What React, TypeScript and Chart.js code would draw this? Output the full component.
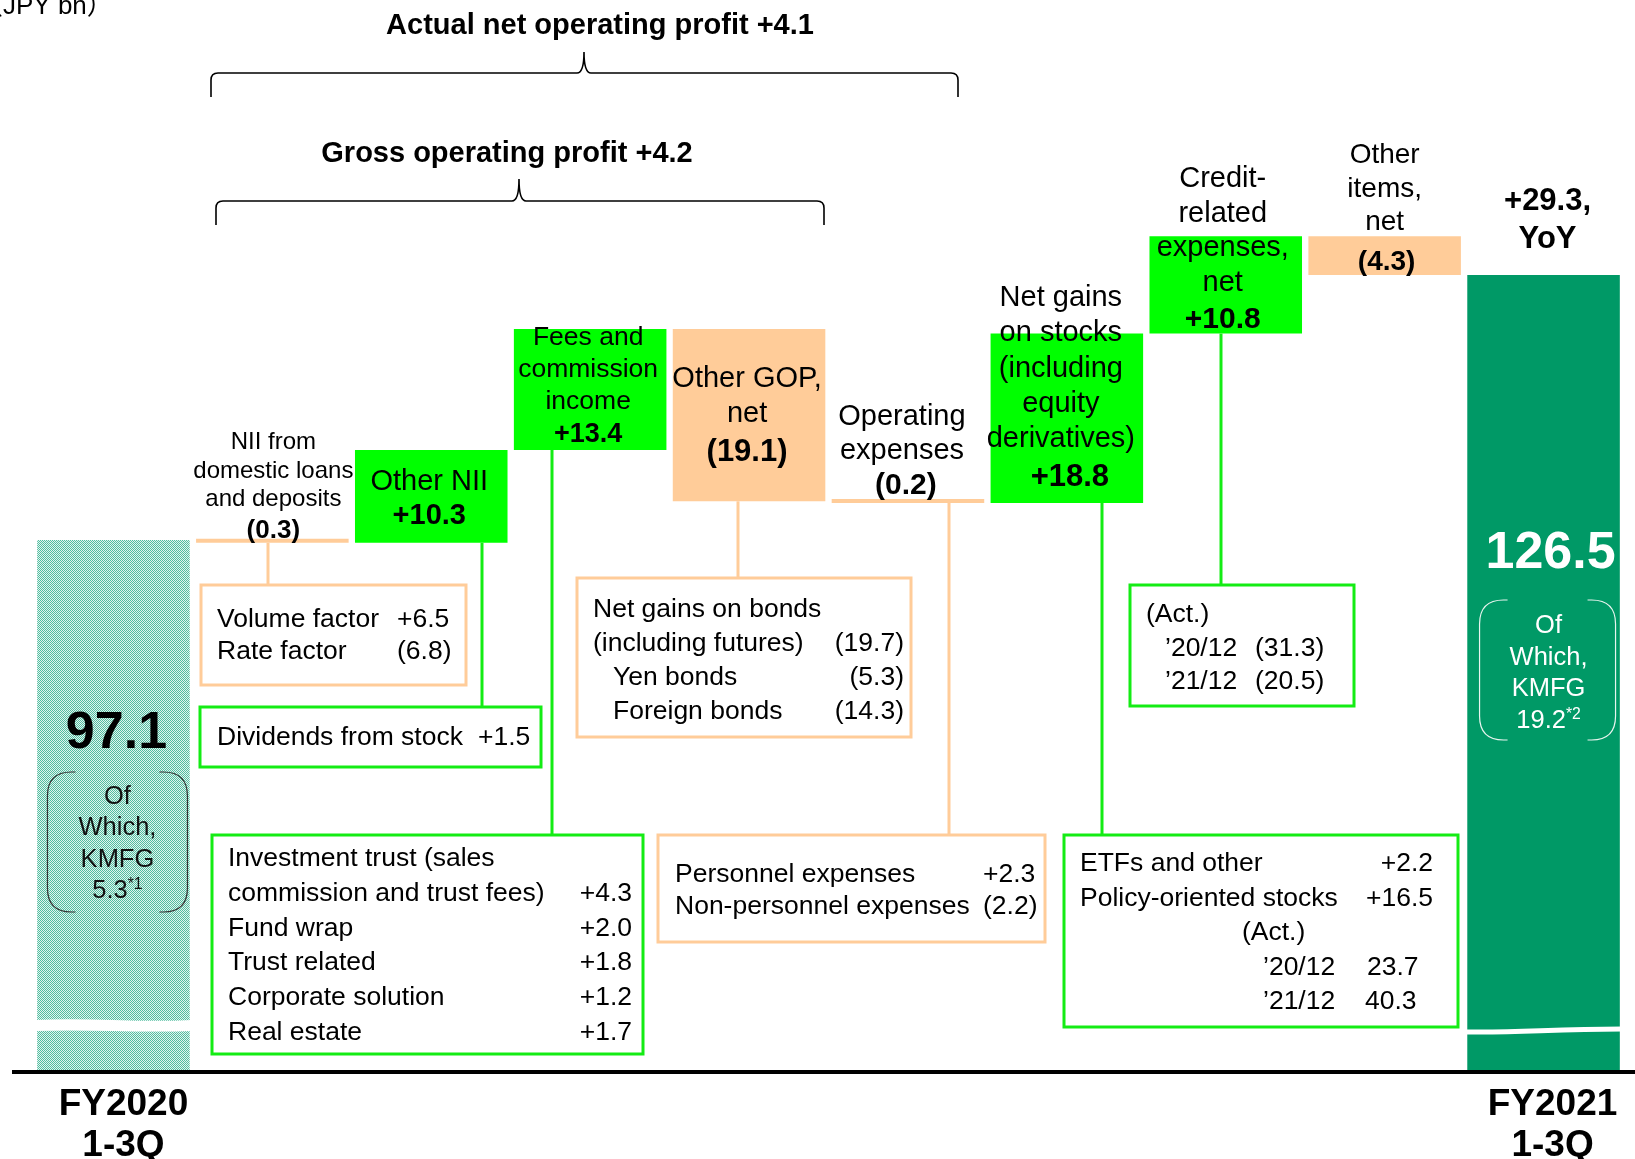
import React, { useEffect, useRef } from 'react';
import { Chart, registerables } from 'chart.js';

Chart.register(...registerables);

const FONT = '"Liberation Sans", Arial, "Noto Sans CJK JP", sans-serif';

// ---------------- data ----------------
const categories = [
  'FY2020 1-3Q',
  'NII from domestic loans and deposits',
  'Other NII',
  'Fees and commission income',
  'Other GOP, net',
  'Operating expenses',
  'Net gains on stocks (including equity derivatives)',
  'Credit-related expenses, net',
  'Other items, net',
  'FY2021 1-3Q',
];
const startTotal = 97.1;
const changes = [-0.3, 10.3, 13.4, -19.1, -0.2, 18.8, 10.8, -4.3];
const endTotal = 126.5;
const axisBreakMin = 38.1; // lower part of the axis is cut away (broken axis)
const axisMax = 157;

const barTitles: string[][] = [
  [],
  ['NII from', 'domestic loans', 'and deposits'],
  ['Other NII'],
  ['Fees and', 'commission', 'income'],
  ['Other GOP,', 'net'],
  ['Operating', 'expenses'],
  ['Net gains', 'on stocks', '(including', 'equity', 'derivatives)'],
  ['Credit-', 'related', 'expenses,', 'net'],
  ['Other', 'items,', 'net'],
  [],
];
const periodLabels = [['FY2020', '1-3Q'], ['FY2021', '1-3Q']];
const yoyLabel = ['+29.3,', 'YoY'];
const kmfgLines = ['Of', 'Which,', 'KMFG'];
const kmfgStart = ['5.3', '*1'];
const kmfgEnd = ['19.2', '*2'];
const unitLabel = '（JPY bn）';
const braceTitles = ['Actual net operating profit +4.1', 'Gross operating profit +4.2'];

const niiBreakdown = [['Volume factor', '+6.5'], ['Rate factor', '(6.8)']];
const dividendsBreakdown = [['Dividends from stock', '+1.5']];
const feesBreakdown = [
  ['Investment trust (sales', ''],
  ['commission and trust fees)', '+4.3'],
  ['Fund wrap', '+2.0'],
  ['Trust related', '+1.8'],
  ['Corporate solution', '+1.2'],
  ['Real estate', '+1.7'],
];
const bondsBreakdown = [
  ['Net gains on bonds', ''],
  ['(including futures)', '(19.7)'],
  ['Yen bonds', '(5.3)'],
  ['Foreign bonds', '(14.3)'],
];
const expensesBreakdown = [['Personnel expenses', '+2.3'], ['Non-personnel expenses', '(2.2)']];
const stocksBreakdown = [
  ['ETFs and other', '+2.2'],
  ['Policy-oriented stocks', '+16.5'],
  ['(Act.)', ''],
  ['’20/12', '23.7'],
  ['’21/12', '40.3'],
];
const creditBreakdown = [['(Act.)', ''], ['’20/12', '(31.3)'], ['’21/12', '(20.5)']];

// ---------------- styles / layout ----------------
const PEACH = '#ffcc99';
const GREEN = '#00ff00';
const GREEN_LINE = '#14ec14';
const DARK_GREEN = '#009966';

const LABEL_LAYOUT: any[] = [
  null,
  { size: 24, y0: 449, lh: 28.5, vSize: 26, vY: 538, dx: 1, vdx: 1 },
  { size: 29, y0: 490, lh: 0, vSize: 29, vY: 524, dx: -2, vdx: -2 },
  { size: 26.5, y0: 345, lh: 32, vSize: 27, vY: 442, dx: -2, vdx: -2 },
  { size: 29, y0: 387, lh: 35, vSize: 31, vY: 461, dx: -2, vdx: -2 },
  { size: 29, y0: 425, lh: 34, vSize: 30, vY: 494, dx: -6, vdx: -2 },
  { size: 29, y0: 306, lh: 35.3, vSize: 31, vY: 486, dx: -6, vdx: 3 },
  { size: 29, y0: 187, lh: 34.5, vSize: 30, vY: 328, dx: -3, vdx: -3 },
  { size: 28, y0: 163, lh: 33.5, vSize: 28, vY: 270, dx: 0, vdx: 2 },
  null,
];

const BOXES: any[] = [
  { rows: niiBreakdown, bar: 1, color: PEACH, rect: [201, 585, 265, 100], cx: 268, y0: 627, lh: 32, tx: [217, 217], vx: 397, valign: 'left' },
  { rows: dividendsBreakdown, bar: 2, color: GREEN_LINE, rect: [200, 707, 341, 60], cx: 482, y0: 745, lh: 0, tx: [217], vx: 478, valign: 'left' },
  { rows: feesBreakdown, bar: 3, color: GREEN_LINE, rect: [212, 835, 431, 219], cx: 552, y0: 866, lh: 34.8, tx: [228, 228, 228, 228, 228, 228], vx: 632, valign: 'right' },
  { rows: bondsBreakdown, bar: 4, color: PEACH, rect: [577, 578, 334, 159], cx: 738, y0: 617, lh: 34, tx: [593, 593, 613, 613], vx: 904, valign: 'right' },
  { rows: expensesBreakdown, bar: 5, color: PEACH, rect: [658, 835, 387, 107], cx: 949, y0: 882, lh: 32, tx: [675, 675], vx: 983, valign: 'left' },
  { rows: stocksBreakdown, bar: 6, color: GREEN_LINE, rect: [1064, 835, 394, 192], cx: 1102, y0: 871, lh: 34.5, tx: [1080, 1080, 1242, 1263, 1263], vx: [1433, 1433, 0, 1367, 1365], valign: ['right', 'right', 'left', 'left', 'left'] },
  { rows: creditBreakdown, bar: 7, color: GREEN_LINE, rect: [1130, 585, 224, 121], cx: 1221, y0: 622, lh: 33.5, tx: [1146, 1165, 1165], vx: 1255, valign: 'left' },
];

function buildRanges(): [number, number][] {
  const ranges: [number, number][] = [[axisBreakMin, startTotal]];
  let cum = startTotal;
  for (const c of changes) {
    const next = Math.round((cum + c) * 10) / 10;
    ranges.push([Math.min(cum, next), Math.max(cum, next)]);
    cum = next;
  }
  ranges.push([axisBreakMin, endTotal]);
  return ranges;
}

function fmtChange(v: number) {
  return v < 0 ? `(${Math.abs(v).toFixed(1)})` : `+${v.toFixed(1)}`;
}

function txt(ctx: CanvasRenderingContext2D, s: string, x: number, y: number, size: number, o: any = {}) {
  ctx.font = `${o.bold ? 'bold ' : ''}${size}px ${FONT}`;
  ctx.textAlign = o.align || 'left';
  ctx.textBaseline = 'alphabetic';
  ctx.fillStyle = o.color || '#000';
  ctx.fillText(s, x, y);
}

function supText(ctx: CanvasRenderingContext2D, main: string, sup: string, cx: number, y: number, size: number, color: string) {
  const supSize = size * 0.62;
  ctx.font = `${size}px ${FONT}`;
  const w1 = ctx.measureText(main).width;
  ctx.font = `${supSize}px ${FONT}`;
  const w2 = ctx.measureText(sup).width;
  const x0 = cx - (w1 + w2) / 2;
  txt(ctx, main, x0, y, size, { color });
  txt(ctx, sup, x0 + w1, y - size * 0.36, supSize, { color });
}

function parenBox(ctx: CanvasRenderingContext2D, x0: number, y0: number, x1: number, y1: number, color: string) {
  const r = 24;
  const stub = 4;
  ctx.strokeStyle = color;
  ctx.lineWidth = 1.2;
  ctx.beginPath();
  ctx.moveTo(x0 + r + stub, y0);
  ctx.lineTo(x0 + r, y0);
  ctx.quadraticCurveTo(x0, y0, x0, y0 + r);
  ctx.lineTo(x0, y1 - r);
  ctx.quadraticCurveTo(x0, y1, x0 + r, y1);
  ctx.lineTo(x0 + r + stub, y1);
  ctx.moveTo(x1 - r - stub, y0);
  ctx.lineTo(x1 - r, y0);
  ctx.quadraticCurveTo(x1, y0, x1, y0 + r);
  ctx.lineTo(x1, y1 - r);
  ctx.quadraticCurveTo(x1, y1, x1 - r, y1);
  ctx.lineTo(x1 - r - stub, y1);
  ctx.stroke();
}

function brace(ctx: CanvasRenderingContext2D, x0: number, x1: number, y: number, tipX: number, tipY: number, drop: number) {
  const r = 7;
  ctx.strokeStyle = '#000';
  ctx.lineWidth = 1.6;
  ctx.beginPath();
  ctx.moveTo(x0, y + drop);
  ctx.lineTo(x0, y + r);
  ctx.quadraticCurveTo(x0, y, x0 + r, y);
  ctx.lineTo(tipX - r, y);
  ctx.quadraticCurveTo(tipX, y, tipX, tipY);
  ctx.quadraticCurveTo(tipX, y, tipX + r, y);
  ctx.lineTo(x1 - r, y);
  ctx.quadraticCurveTo(x1, y, x1, y + r);
  ctx.lineTo(x1, y + drop);
  ctx.stroke();
}

function makeHatch(ctx: CanvasRenderingContext2D) {
  const c = document.createElement('canvas');
  c.width = 2;
  c.height = 2;
  const p = c.getContext('2d')!;
  p.fillStyle = '#e2f5ef';
  p.fillRect(0, 0, 2, 2);
  p.fillStyle = '#52bca0';
  p.fillRect(0, 0, 1, 1);
  p.fillRect(1, 1, 1, 1);
  return ctx.createPattern(c, 'repeat');
}

const overlayPlugin = {
  id: 'overlay',
  afterDatasetsDraw(chart: any) {
    const ctx: CanvasRenderingContext2D = chart.ctx;
    const bars = chart.getDatasetMeta(0).data.map((el: any) => {
      const p = el.getProps(['x', 'y', 'base', 'width'], true);
      return { x: p.x, top: Math.min(p.y, p.base), bottom: Math.max(p.y, p.base), w: p.width };
    });
    ctx.save();

    // axis-break marks
    const b0 = bars[0];
    const L0 = b0.x - b0.w / 2 - 2;
    const R0 = b0.x + b0.w / 2 + 2;
    ctx.fillStyle = '#fff';
    ctx.beginPath();
    ctx.moveTo(L0, 1020);
    ctx.bezierCurveTo(L0 + (R0 - L0) * 0.33, 1017, L0 + (R0 - L0) * 0.66, 1023, R0, 1020);
    ctx.lineTo(R0, 1031);
    ctx.bezierCurveTo(L0 + (R0 - L0) * 0.66, 1033, L0 + (R0 - L0) * 0.33, 1029, L0, 1031);
    ctx.closePath();
    ctx.fill();
    const b9 = bars[9];
    const L9 = b9.x - b9.w / 2 - 2;
    const R9 = b9.x + b9.w / 2 + 2;
    ctx.strokeStyle = '#fff';
    ctx.lineWidth = 5;
    ctx.beginPath();
    ctx.moveTo(L9, 1032);
    ctx.bezierCurveTo(L9 + (R9 - L9) * 0.35, 1033, L9 + (R9 - L9) * 0.55, 1029, R9, 1029);
    ctx.stroke();

    // horizontal axis line
    ctx.fillStyle = '#000';
    ctx.fillRect(12, 1070, 1623, 4);

    // unit label (partly cut at the top-left)
    ctx.font = `26px ${FONT}`;
    const wOpen = ctx.measureText('（').width;
    txt(ctx, unitLabel, -wOpen + 3, 14, 26);

    // braces and their titles
    txt(ctx, braceTitles[0], 600, 34, 29, { bold: true, align: 'center' });
    brace(ctx, 211, 958, 73, 584, 52, 24);
    txt(ctx, braceTitles[1], 507, 162, 29, { bold: true, align: 'center' });
    brace(ctx, 216, 824, 201, 519, 179, 24);

    // bar titles and change values
    for (let i = 1; i <= changes.length; i++) {
      const lay = LABEL_LAYOUT[i];
      const cx = bars[i].x;
      barTitles[i].forEach((line, k) => txt(ctx, line, cx + lay.dx, lay.y0 + k * lay.lh, lay.size, { align: 'center' }));
      txt(ctx, fmtChange(changes[i - 1]), cx + lay.vdx, lay.vY, lay.vSize, { bold: true, align: 'center' });
    }
    // YoY
    txt(ctx, yoyLabel[0], bars[9].x + 4, 210, 31, { bold: true, align: 'center' });
    txt(ctx, yoyLabel[1], bars[9].x + 4, 248, 31, { bold: true, align: 'center' });

    // connectors and breakdown boxes
    for (const bx of BOXES) {
      const b = bars[bx.bar];
      const [x, y, w, h] = bx.rect;
      ctx.strokeStyle = bx.color;
      ctx.lineWidth = 3;
      ctx.beginPath();
      ctx.moveTo(bx.cx, b.bottom);
      ctx.lineTo(bx.cx, y);
      ctx.stroke();
      ctx.fillStyle = '#fff';
      ctx.fillRect(x, y, w, h);
      ctx.strokeRect(x, y, w, h);
      bx.rows.forEach((row: string[], k: number) => {
        const by = bx.y0 + k * bx.lh;
        txt(ctx, row[0], bx.tx[k], by, 26.5);
        if (row[1]) {
          const vx = Array.isArray(bx.vx) ? bx.vx[k] : bx.vx;
          const va = Array.isArray(bx.valign) ? bx.valign[k] : bx.valign;
          txt(ctx, row[1], vx, by, 26.5, { align: va });
        }
      });
    }

    // start total label
    const c0 = b0.x + 4;
    txt(ctx, startTotal.toFixed(1), c0 - 1, 748, 52, { bold: true, align: 'center' });
    parenBox(ctx, c0 - 70, 772, c0 + 70, 912, '#333');
    kmfgLines.forEach((l, k) => txt(ctx, l, c0, 804 + k * 31.3, 25.5, { align: 'center', color: '#111' }));
    supText(ctx, kmfgStart[0], kmfgStart[1], c0, 898, 25.5, '#111');

    // end total label
    const c9 = b9.x + 5;
    txt(ctx, endTotal.toFixed(1), c9 + 2, 568, 52, { bold: true, align: 'center', color: '#fff' });
    parenBox(ctx, c9 - 69, 600, c9 + 67, 740, '#e8f5ef');
    kmfgLines.forEach((l, k) => txt(ctx, l, c9, 633 + k * 31.7, 25.5, { align: 'center', color: '#fff' }));
    supText(ctx, kmfgEnd[0], kmfgEnd[1], c9, 728, 25.5, '#fff');

    // period labels
    txt(ctx, periodLabels[0][0], b0.x + 10, 1115, 37, { bold: true, align: 'center' });
    txt(ctx, periodLabels[0][1], b0.x + 10, 1156, 37, { bold: true, align: 'center' });
    txt(ctx, periodLabels[1][0], b9.x + 9, 1115, 37, { bold: true, align: 'center' });
    txt(ctx, periodLabels[1][1], b9.x + 9, 1156, 37, { bold: true, align: 'center' });

    ctx.restore();
  },
};

export default function App() {
  const ref = useRef<HTMLCanvasElement>(null);
  useEffect(() => {
    const canvas = ref.current!;
    const ctx = canvas.getContext('2d')!;
    const hatch = makeHatch(ctx);
    const ranges = buildRanges();
    const colors = ranges.map((_, i) => {
      if (i === 0) return hatch;
      if (i === ranges.length - 1) return DARK_GREEN;
      return changes[i - 1] < 0 ? PEACH : GREEN;
    });
    const chart = new Chart(ctx, {
      type: 'bar',
      data: {
        labels: categories,
        datasets: [
          {
            data: ranges as any,
            backgroundColor: colors as any,
            borderWidth: 0,
            barPercentage: 0.96,
            categoryPercentage: 1,
            minBarLength: 4,
          },
        ],
      },
      options: {
        animation: false,
        responsive: false,
        devicePixelRatio: 1,
        layout: { padding: { left: 34, right: 12, top: 0, bottom: 87 } },
        plugins: { legend: { display: false }, tooltip: { enabled: false }, title: { display: false } },
        scales: {
          x: { display: false },
          y: { display: false, min: axisBreakMin, max: axisMax },
        },
      },
      plugins: [overlayPlugin],
    });
    return () => chart.destroy();
  }, []);
  return (
    <div style={{ position: 'absolute', left: 0, top: 0, width: 1635, height: 1159, background: '#fff' }}>
      <canvas ref={ref} width={1635} height={1159} style={{ display: 'block', width: 1635, height: 1159 }} />
    </div>
  );
}
